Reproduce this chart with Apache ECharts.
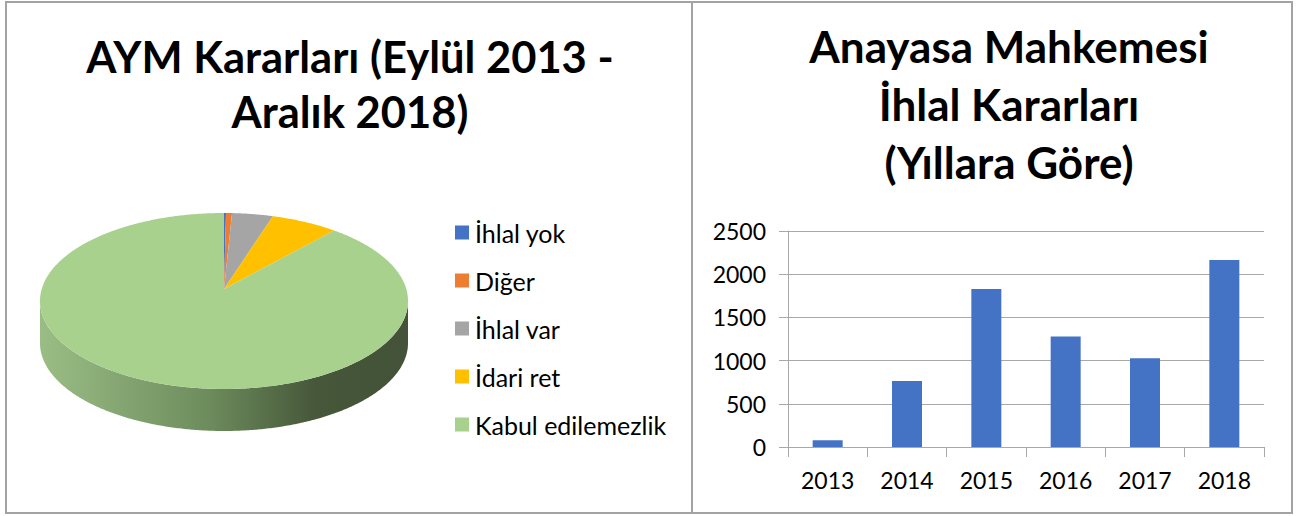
<!DOCTYPE html>
<html><head><meta charset="utf-8">
<script src="https://cdn.jsdelivr.net/npm/echarts@6/dist/echarts.min.js"></script>
<style>html,body{margin:0;padding:0;background:#fff}#c{width:1303px;height:516px}</style>
</head><body><div id="c"></div>
<script>
// ---- data ----
const pieTitle = 'AYM Kararları (Eylül 2013 -\nAralık 2018)';
const barTitle = 'Anayasa Mahkemesi\nİhlal Kararları\n(Yıllara Göre)';
const sliceNames = ['İhlal yok', 'Diğer', 'İhlal var', 'İdari ret', 'Kabul edilemezlik'];
const sliceValues = [0.2, 0.6, 4.1, 6.7, 88.4];
const years = ['2013', '2014', '2015', '2016', '2017', '2018'];
const yearValues = [78, 765, 1828, 1280, 1028, 2164];

// ---- styles / layout ----
const palette = ['#4472c4', '#ed7d31', '#a5a5a5', '#ffc000', '#a9d18e'];
const FONT = 'Lato';
const PIE = { cx: 224, cy: 289, k: 182.3, a: 46.95, c: -0.13636, depth: 42 };

const total = sliceValues.reduce((s, v) => s + v, 0);
const cum = [0];
sliceValues.forEach(v => cum.push(cum[cum.length - 1] + v / total));

function proj(t, dy) {
  const u = Math.sin(t), v = -Math.cos(t), w = 1 + PIE.c * v;
  return [PIE.cx + PIE.k * u / w, (PIE.a * v + PIE.cy) / w + dy];
}
function arc(t0, t1, dy) {
  const n = Math.max(2, Math.ceil((t1 - t0) / (Math.PI / 360)));
  const pts = [];
  for (let i = 0; i <= n; i++) pts.push(proj(t0 + (t1 - t0) * i / n, dy));
  return pts;
}
const F0 = Math.acos(PIE.c), F1 = 2 * Math.PI - Math.acos(PIE.c);
const sideFill = new echarts.graphic.LinearGradient(40, 0, 408, 0, [
  { offset: 0, color: '#9abd85' },
  { offset: 0.45, color: '#6e8d5d' },
  { offset: 0.75, color: '#46573a' },
  { offset: 1, color: '#435238' }
], true);

function renderSlice(params, api) {
  const s = api.value(0) * 2 * Math.PI, e = api.value(1) * 2 * Math.PI;
  const children = [];
  const fs = Math.max(s, F0), fe = Math.min(e, F1);
  if (fe > fs) {
    const top = arc(fs, fe, 0), bot = arc(fs, fe, PIE.depth).reverse();
    children.push({ type: 'polygon', z2: 0, shape: { points: top.concat(bot) }, style: { fill: sideFill } });
  }
  if (e > s) {
    children.push({ type: 'polygon', z2: 1, shape: { points: [[PIE.cx, PIE.cy]].concat(arc(s, e, 0)) },
      style: { fill: api.visual('color') } });
  }
  return { type: 'group', children };
}

const gridColor = '#a8a8a8';
const chart = echarts.init(document.getElementById('c'), null, { renderer: 'svg' });
chart.setOption({
  animation: false,
  backgroundColor: '#fff',
  textStyle: { fontFamily: FONT },
  graphic: [
    { type: 'rect', shape: { x: 6, y: 2, width: 1286, height: 511 }, style: { fill: 'none', stroke: '#a3a3a3', lineWidth: 2 } },
    { type: 'line', shape: { x1: 692, y1: 2, x2: 692, y2: 513 }, style: { stroke: '#a3a3a3', lineWidth: 2 } },
    { type: 'text', x: 350, y: 28, style: { text: pieTitle, font: 'bold 43.5px ' + FONT, fill: '#000', textAlign: 'center', textVerticalAlign: 'top', lineHeight: 55 } },
    { type: 'text', x: 1009, y: 17, style: { text: barTitle, font: 'bold 44px ' + FONT, fill: '#000', textAlign: 'center', textVerticalAlign: 'top', lineHeight: 58 } }
  ],
  legend: {
    orient: 'vertical', left: 455, top: 218, padding: 0,
    data: sliceNames, icon: 'rect', itemWidth: 14, itemHeight: 14, itemGap: 19,
    selectedMode: false,
    textStyle: { fontSize: 25, lineHeight: 29, color: '#000', fontFamily: FONT, padding: [0, 0, 0, 1] }
  },
  grid: { left: 788, right: 39, top: 231, bottom: 69, containLabel: false },
  xAxis: {
    type: 'category', data: years,
    axisLine: { show: true, lineStyle: { color: gridColor, width: 1 } },
    axisTick: { show: true, length: 10, lineStyle: { color: gridColor } },
    axisLabel: { fontSize: 23, color: '#000', margin: 21, fontFamily: FONT }
  },
  yAxis: {
    type: 'value', min: 0, max: 2500, interval: 500,
    axisLine: { show: true, lineStyle: { color: gridColor, width: 1 } },
    axisTick: { show: true, length: 9, lineStyle: { color: gridColor } },
    splitLine: { show: true, lineStyle: { color: gridColor, width: 1 } },
    axisLabel: { fontSize: 23, color: '#000', margin: 22, fontFamily: FONT, formatter: v => String(v) }
  },
  series: sliceNames.map((name, i) => ({
    type: 'custom', name, coordinateSystem: 'none', silent: true,
    itemStyle: { color: palette[i] },
    renderItem: renderSlice,
    data: [[cum[i], cum[i + 1]]]
  })).concat([{
    type: 'bar', name: 'İhlal Kararları', data: yearValues, barWidth: 30,
    itemStyle: { color: '#4472c4' }, silent: true
  }])
});
</script>
</body></html>
